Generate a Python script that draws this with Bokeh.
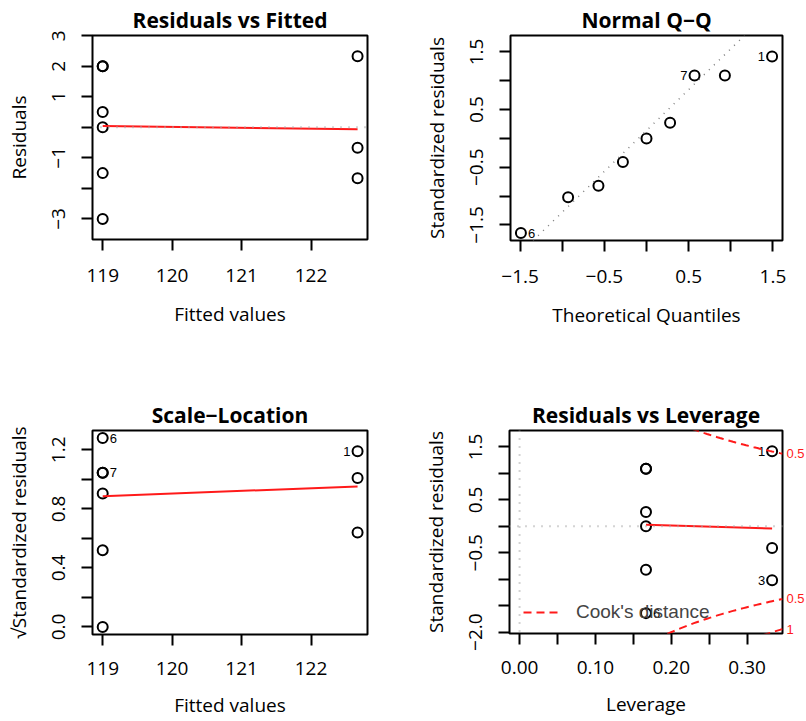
import numpy as np
from bokeh.plotting import figure
from bokeh.models import (FixedTicker, LinearAxis, Legend, LegendItem, Slope, Span,
                          Range1d)
from bokeh.layouts import column, row
from bokeh.embed import file_html
from bokeh.resources import INLINE
from bokeh.core.properties import value

# ---------------- data ----------------
obs_ids = ["1", "2", "3", "4", "5", "6", "7", "8", "9"]
fitted = [122.67, 122.67, 122.67, 119.0, 119.0, 119.0, 119.0, 119.0, 119.0]
residuals = [2.33, -0.67, -1.67, 2.0, 0.5, -3.0, 2.0, 0.0, -1.5]
std_resid = [1.42, -0.41, -1.02, 1.09, 0.27, -1.64, 1.09, 0.0, -0.82]
sqrt_abs_std = [1.19, 0.64, 1.01, 1.045, 0.52, 1.28, 1.045, 0.0, 0.905]
theo_quant = [1.49, -0.28, -0.93, 0.93, 0.28, -1.49, 0.57, 0.0, -0.57]
leverage = [0.333, 0.333, 0.333, 0.1667, 0.1667, 0.1667, 0.1667, 0.1667, 0.1667]

# lowess smooth lines (red)
rvf_smooth_x = [119.0, 122.67]
rvf_smooth_y = [0.04, -0.06]
sl_smooth_x = [119.0, 122.67]
sl_smooth_y = [0.886, 0.952]
lev_smooth_x = [0.1667, 0.333]
lev_smooth_y = [0.03, -0.04]

# Q-Q reference line
qq_intercept = 0.137
qq_slope = 1.417

# Cook's distance contour levels, number of model parameters
cook_levels = [0.5, 1.0]
cook_level_labels = ["0.5", "1"]
n_params = 2

# point labels per panel: (obs id, side)
qq_labels = [("6", "right"), ("7", "left"), ("1", "left")]
sl_labels = [("6", "right"), ("7", "right"), ("1", "left")]
lev_labels = [("1", "left"), ("3", "left"), ("6", "right")]

# axis ranges and ticks
rvf_xr = (118.853, 122.813)
rvf_yr = (-3.674, 3.007)
qq_xr = (-1.6135, 1.6135)
qq_yr = (-1.770, 1.785)
sl_yr = (-0.0512, 1.3312)
lev_xr = (-0.0133, 0.3467)
lev_yr = (-2.025, 1.811)

fit_ticks = [119, 120, 121, 122]
fit_tick_labels = ["119", "120", "121", "122"]
rvf_yticks = [-3, -2, -1, 0, 1, 2, 3]
rvf_ylabels = ["\u22123", "", "\u22121", "", "1", "2", "3"]
qq_ticks = [-1.5, -1.0, -0.5, 0.0, 0.5, 1.0, 1.5]
qq_tick_labels = ["\u22121.5", "", "\u22120.5", "", "0.5", "", "1.5"]
sl_yticks = [0.0, 0.2, 0.4, 0.6, 0.8, 1.0, 1.2]
sl_ylabels = ["0.0", "", "0.4", "", "0.8", "", "1.2"]
lev_xticks = [0.0, 0.05, 0.1, 0.15, 0.2, 0.25, 0.3]
lev_xlabels = ["0.00", "", "0.10", "", "0.20", "", "0.30"]
lev_yticks = [-2.0, -1.5, -1.0, -0.5, 0.0, 0.5, 1.0, 1.5]
lev_ylabels = ["\u22122.0", "", "", "\u22120.5", "", "0.5", "", "1.5"]

AX_FONT = "Open Sans"
LBL_FONT = "Liberation Sans"
RED = "#FF1A1A"
GRAY = "#A8A8A8"


def make_fig(title, xr, yr, fw, fh, bl, br, bt, bb, xlabel, ylabel, xs1, xs2):
    p = figure(frame_width=fw, frame_height=fh,
               min_border_left=bl, min_border_right=br,
               min_border_top=bt, min_border_bottom=bb,
               x_range=Range1d(*xr), y_range=Range1d(*yr),
               output_backend="svg", toolbar_location=None, title=title,
               x_axis_label=xlabel, y_axis_label=ylabel)
    p.xgrid.visible = False
    p.ygrid.visible = False
    p.outline_line_color = "black"
    p.outline_line_width = 2
    p.outline_line_alpha = 1
    p.background_fill_color = "white"
    p.border_fill_color = "white"
    p.title.align = "center"
    p.title.text_font = AX_FONT
    p.title.text_font_size = "21px"
    p.title.text_font_style = "bold"
    p.title.text_color = "black"
    p.title.text_line_height = 1.0
    p.title.standoff = 4
    for ax in (p.xaxis[0], p.yaxis[0]):
        ax.axis_line_color = None
        ax.major_tick_out = 11
        ax.major_tick_in = 0
        ax.major_tick_line_width = 2
        ax.major_tick_line_color = "black"
        ax.minor_tick_line_color = None
        ax.major_label_text_font = AX_FONT
        ax.major_label_text_font_size = "19px"
        ax.major_label_text_color = "black"
        ax.major_label_text_line_height = 1.0
        ax.axis_label_text_font = AX_FONT
        ax.axis_label_text_font_size = "19px"
        ax.axis_label_text_font_style = "normal"
        ax.axis_label_text_color = "black"
        ax.axis_label_text_line_height = 1.0
    p.xaxis[0].major_label_standoff = xs1
    p.xaxis[0].axis_label_standoff = xs2
    p.yaxis[0].major_label_standoff = 16
    p.yaxis[0].axis_label_standoff = 18
    p.yaxis[0].major_label_orientation = "vertical"
    return p


def set_ticks(axis, ticks, labels):
    axis.ticker = FixedTicker(ticks=ticks)
    axis.major_label_overrides = {t: l for t, l in zip(ticks, labels)}


def points(p, xs, ys):
    p.scatter(xs, ys, marker="circle", size=10, fill_color=None,
              line_color="black", line_width=2)


def add_labels(p, xs, ys, labels):
    for oid, side in labels:
        i = obs_ids.index(oid)
        p.text(x=[xs[i]], y=[ys[i]], text=[oid],
               text_font=value(LBL_FONT), text_font_size="13px",
               text_color="black", text_baseline="middle",
               text_align="left" if side == "right" else "right",
               x_offset=7 if side == "right" else -7)


# ---------------- Residuals vs Fitted ----------------
p1 = make_fig("Residuals vs Fitted", rvf_xr, rvf_yr, 275, 204, 92, 36, 35, 121,
              "Fitted values", "Residuals", 18, 16)
set_ticks(p1.xaxis[0], fit_ticks, fit_tick_labels)
set_ticks(p1.yaxis[0], rvf_yticks, rvf_ylabels)
p1.add_layout(Span(location=0, dimension="width", line_color=GRAY,
                   line_dash="1 7", line_width=2))
points(p1, fitted, residuals)
p1.line(rvf_smooth_x, rvf_smooth_y, line_color=RED, line_width=2)

# ---------------- Normal Q-Q ----------------
p2 = make_fig("Normal Q\u2212Q", qq_xr, qq_yr, 272, 205, 107, 24, 34, 121,
              "Theoretical Quantiles", "Standardized residuals", 18, 16)
set_ticks(p2.xaxis[0], qq_ticks, qq_tick_labels)
set_ticks(p2.yaxis[0], qq_ticks, qq_tick_labels)
p2.add_layout(Slope(gradient=qq_slope, y_intercept=qq_intercept,
                    line_color="#7F7F7F", line_dash="1 6", line_width=1.5))
points(p2, theo_quant, std_resid)
add_labels(p2, theo_quant, std_resid, qq_labels)

# ---------------- Scale-Location ----------------
p3 = make_fig("Scale\u2212Location", rvf_xr, sl_yr, 275, 204, 92, 36, 70, 87,
              "Fitted values", "\u221aStandardized residuals", 16, 14)
set_ticks(p3.xaxis[0], fit_ticks, fit_tick_labels)
set_ticks(p3.yaxis[0], sl_yticks, sl_ylabels)
points(p3, fitted, sqrt_abs_std)
p3.line(sl_smooth_x, sl_smooth_y, line_color=RED, line_width=2)
add_labels(p3, fitted, sqrt_abs_std, sl_labels)

# ---------------- Residuals vs Leverage ----------------
p4 = make_fig("Residuals vs Leverage", lev_xr, lev_yr, 273, 203, 106, 24, 70, 88,
              "Leverage", "Standardized residuals", 16, 14)
set_ticks(p4.xaxis[0], lev_xticks, lev_xlabels)
set_ticks(p4.yaxis[0], lev_yticks, lev_ylabels)
p4.add_layout(Span(location=0, dimension="width", line_color=GRAY,
                   line_dash="1 7", line_width=2))
p4.add_layout(Span(location=0, dimension="height", line_color=GRAY,
                   line_dash="1 7", line_width=2))
points(p4, leverage, std_resid)
p4.line(lev_smooth_x, lev_smooth_y, line_color=RED, line_width=2)
add_labels(p4, leverage, std_resid, lev_labels)

# Cook's distance contours
h_lo = min(min(leverage), max(leverage) / 100)
h_hi = lev_xr[1]
hh = np.linspace(h_lo, h_hi, 101)
cook_renderers = []
for lvl in cook_levels:
    cl = np.sqrt(lvl * n_params * (1 - hh) / hh)
    for sgn in (1, -1):
        r = p4.line(hh, sgn * cl, line_color=RED, line_dash="8 5", line_width=2)
        cook_renderers.append(r)

ymult = np.sqrt(n_params * (1 - h_hi) / h_hi)
aty = [float(np.sqrt(l) * ymult) for l in cook_levels]
right_ticks = [-a for a in reversed(aty)] + aty
right_labels = list(reversed(cook_level_labels)) + cook_level_labels
rax = LinearAxis()
rax.ticker = FixedTicker(ticks=right_ticks)
rax.major_label_overrides = {t: l for t, l in zip(right_ticks, right_labels)}
rax.axis_line_color = None
rax.major_tick_line_color = None
rax.major_tick_out = 0
rax.major_tick_in = 0
rax.minor_tick_line_color = None
rax.major_label_standoff = 4
rax.major_label_text_color = RED
rax.major_label_text_font = LBL_FONT
rax.major_label_text_font_size = "13px"
rax.major_label_orientation = "horizontal"
p4.add_layout(rax, "right")

legend = Legend(items=[LegendItem(label="Cook's distance", renderers=[cook_renderers[1]])],
                location=(14, 10), border_line_color=None, background_fill_alpha=0,
                label_text_font=LBL_FONT, label_text_font_size="19px",
                glyph_width=37, glyph_height=22, label_standoff=16,
                padding=0, margin=0, spacing=0)
p4.add_layout(legend)

layout = column(row(p1, p2), row(p3, p4))
open("out.html", "w").write(file_html(layout, INLINE))
